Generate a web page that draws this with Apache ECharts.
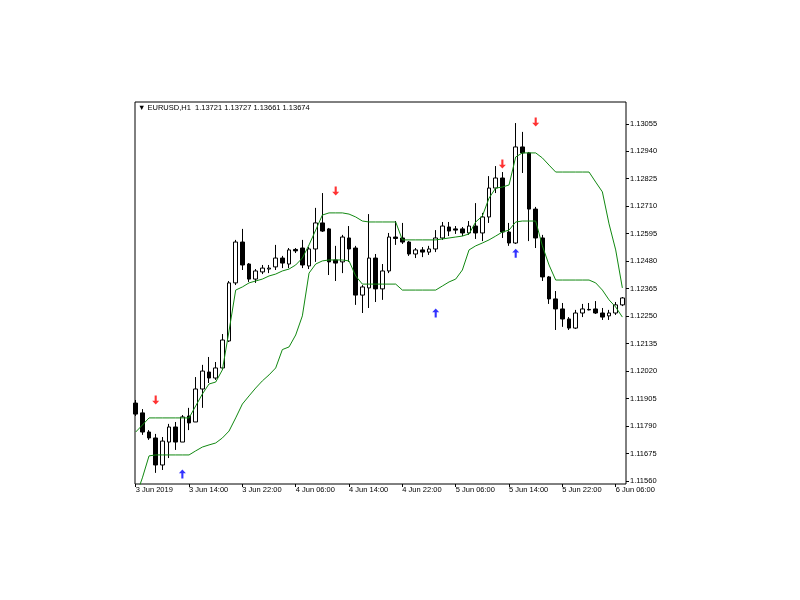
<!DOCTYPE html>
<html><head><meta charset="utf-8">
<script src="https://cdn.jsdelivr.net/npm/echarts@6/dist/echarts.min.js"></script>
<style>html,body{margin:0;padding:0;background:#fff}#c{width:800px;height:600px}</style>
</head><body><div id="c"></div>
<script>
// EURUSD H1 candles, index 0 = 3 Jun 2019 06:00
const opens = [1.11886,1.11845,1.11765,1.11740,1.11627,1.11723,1.11786,1.11723,1.11832,1.11807,
1.11945,1.12016,1.11991,1.12033,1.12146,1.12389,1.12560,1.12468,1.12405,1.12435,
1.12447,1.12456,1.12493,1.12468,1.12529,1.12535,1.12460,1.12531,1.12640,1.12615,
1.12485,1.12477,1.12577,1.12535,1.12338,1.12368,1.12493,1.12364,1.12439,1.12581,
1.12577,1.12560,1.12510,1.12527,1.12518,1.12531,1.12577,1.12623,1.12615,1.12615,
1.12598,1.12627,1.12598,1.12665,1.12786,1.12828,1.12602,1.12556,1.12958,1.12933,
1.12698,1.12577,1.12414,1.12322,1.12280,1.12238,1.12200,1.12263,1.12278,1.12280,
1.12263,1.12251,1.12263,1.12297];
const closes = [1.11840,1.11765,1.11740,1.11627,1.11727,1.11786,1.11723,1.11828,1.11803,1.11945,
1.12020,1.11991,1.12033,1.12150,1.12389,1.12560,1.12464,1.12405,1.12439,1.12451,
1.12451,1.12493,1.12472,1.12527,1.12523,1.12464,1.12531,1.12640,1.12606,1.12477,
1.12472,1.12581,1.12531,1.12338,1.12372,1.12493,1.12364,1.12439,1.12581,1.12575,
1.12560,1.12510,1.12527,1.12518,1.12531,1.12577,1.12627,1.12606,1.12610,1.12598,
1.12627,1.12598,1.12665,1.12786,1.12828,1.12602,1.12556,1.12958,1.12933,1.12698,
1.12577,1.12414,1.12322,1.12280,1.12238,1.12200,1.12263,1.12280,1.12276,1.12263,
1.12246,1.12263,1.12297,1.12326];
const lows = [1.11832,1.11753,1.11732,1.11594,1.11606,1.11656,1.11690,1.11723,1.11773,1.11807,
1.11866,1.11970,1.11983,1.12025,1.12142,1.12380,1.12443,1.12393,1.12389,1.12426,
1.12430,1.12443,1.12451,1.12451,1.12514,1.12451,1.12447,1.12477,1.12602,1.12422,
1.12397,1.12430,1.12477,1.12297,1.12263,1.12284,1.12309,1.12318,1.12430,1.12548,
1.12552,1.12502,1.12493,1.12497,1.12506,1.12518,1.12569,1.12585,1.12594,1.12585,
1.12590,1.12573,1.12564,1.12640,1.12765,1.12577,1.12544,1.12552,1.12849,1.12564,
1.12535,1.12397,1.12301,1.12192,1.12205,1.12192,1.12196,1.12246,1.12274,1.12259,
1.12234,1.12234,1.12255,1.12292];
const highs = [1.11899,1.11861,1.11773,1.11757,1.11744,1.11799,1.11807,1.11836,1.11866,1.11995,
1.12046,1.12079,1.12058,1.12175,1.12397,1.12569,1.12615,1.12472,1.12447,1.12464,
1.12464,1.12548,1.12502,1.12535,1.12535,1.12569,1.12539,1.12703,1.12765,1.12619,
1.12544,1.12590,1.12627,1.12544,1.12380,1.12677,1.12510,1.12468,1.12598,1.12648,
1.12640,1.12564,1.12535,1.12539,1.12544,1.12610,1.12644,1.12644,1.12627,1.12623,
1.12648,1.12723,1.12682,1.12836,1.12878,1.12853,1.12640,1.13058,1.13021,1.12937,
1.12707,1.12590,1.12418,1.12355,1.12305,1.12246,1.12276,1.12301,1.12305,1.12313,
1.12284,1.12276,1.12309,1.12330];
// indicator lines
const upperLine = [1.11765,1.11794,1.11824,1.11824,1.11824,1.11824,1.11824,1.11824,1.11824,1.11874,
1.11924,1.11966,1.11974,1.12025,1.12188,1.12359,1.12372,1.12389,1.12397,1.12405,
1.12418,1.12426,1.12439,1.12447,1.12464,1.12493,1.12548,1.12610,1.12673,1.12682,
1.12682,1.12682,1.12677,1.12665,1.12648,1.12644,1.12644,1.12644,1.12644,1.12644,
1.12569,1.12569,1.12569,1.12569,1.12569,1.12569,1.12573,1.12577,1.12581,1.12585,
1.12594,1.12644,1.12669,1.12744,1.12786,1.12790,1.12799,1.12916,1.12933,1.12933,
1.12933,1.12912,1.12882,1.12853,1.12853,1.12853,1.12853,1.12853,1.12853,1.12811,
1.12770,1.12636,1.12527,1.12368];
const lowerLine = [1.11493,1.11573,1.11665,1.11669,1.11669,1.11669,1.11669,1.11669,1.11669,1.11686,
1.11702,1.11711,1.11719,1.11740,1.11769,1.11824,1.11882,1.11916,1.11949,1.11979,
1.12004,1.12033,1.12110,1.12121,1.12171,1.12251,1.12430,1.12468,1.12481,1.12485,
1.12485,1.12485,1.12481,1.12418,1.12384,1.12384,1.12384,1.12384,1.12384,1.12384,
1.12359,1.12359,1.12359,1.12359,1.12359,1.12359,1.12376,1.12393,1.12405,1.12443,
1.12527,1.12544,1.12556,1.12569,1.12585,1.12602,1.12610,1.12644,1.12648,1.12648,
1.12648,1.12544,1.12464,1.12401,1.12401,1.12401,1.12401,1.12401,1.12401,1.12389,
1.12359,1.12318,1.12288,1.12246];
// signal arrows
const sellIdx = [3, 30, 55, 60];
const sellPrice = [1.11899, 1.12774, 1.12887, 1.13062];
const buyIdx = [7, 45, 57];
const buyPrice = [1.11589, 1.12263, 1.12513];
// axis ticks
const xTickIdx = [0, 8, 16, 24, 32, 40, 48, 56, 64, 72];
const xTickLabels = ['3 Jun 2019','3 Jun 14:00','3 Jun 22:00','4 Jun 06:00','4 Jun 14:00','4 Jun 22:00','5 Jun 06:00','5 Jun 14:00','5 Jun 22:00','6 Jun 06:00'];
const yTicks = [1.11560,1.11675,1.11790,1.11905,1.12020,1.12135,1.12250,1.12365,1.12480,1.12595,1.12710,1.12825,1.12940,1.13055];
const headerText = '\u25BC EURUSD,H1  1.13721 1.13727 1.13661 1.13674';

const FONT = 'Liberation Sans';
const chart = echarts.init(document.getElementById('c'), null, {renderer: 'canvas'});
const upPath = 'path://M5,0 L10,5 L6.5,5 L6.5,12 L3.5,12 L3.5,5 L0,5 Z';
const downPath = 'path://M5,12 L10,7 L6.5,7 L6.5,0 L3.5,0 L3.5,7 L0,7 Z';
chart.setOption({
  animation: false,
  backgroundColor: '#fff',
  grid: {left: 135, top: 102, right: 174, bottom: 116, show: true, borderColor: '#000', borderWidth: 1, backgroundColor: '#fff'},
  graphic: [{type: 'text', left: 138, top: 104, style: {text: headerText, fill: '#000', font: '7.5px "' + FONT + '"'}}],
  xAxis: {
    type: 'value', min: -0.105, max: 73.545, position: 'bottom',
    axisLine: {show: false, onZero: false}, splitLine: {show: false},
    axisTick: {show: true, inside: false, customValues: xTickIdx, length: 3, lineStyle: {color: '#000'}},
    axisLabel: {customValues: xTickIdx, formatter: v => xTickLabels[xTickIdx.indexOf(Math.round(v))] || '',
      align: 'left', margin: 2, color: '#000', fontSize: 7.5, fontFamily: FONT}
  },
  yAxis: {
    type: 'value', position: 'right', min: 1.115474, max: 1.131461, scale: true,
    axisLine: {show: false, onZero: false}, splitLine: {show: false},
    axisTick: {show: true, inside: false, customValues: yTicks, length: 3, lineStyle: {color: '#000'}},
    axisLabel: {customValues: yTicks, formatter: v => v.toFixed(5), margin: 4, color: '#000', fontSize: 7.5, fontFamily: FONT}
  },
  series: [
    {type: 'candlestick', data: opens.map((o, i) => [i, o, closes[i], lows[i], highs[i]]),
     encode: {x: 0, y: [1, 2, 3, 4]}, barWidth: 4, clip: true, z: 2,
     itemStyle: {color: '#fff', color0: '#000', borderColor: '#000', borderColor0: '#000', borderColorDoji: '#000', borderWidth: 1}},
    {type: 'line', data: upperLine.map((v, i) => [i, v]), symbol: 'none', clip: true, z: 3,
     lineStyle: {color: '#118811', width: 1}},
    {type: 'line', data: lowerLine.map((v, i) => [i, v]), symbol: 'none', clip: true, z: 3,
     lineStyle: {color: '#118811', width: 1}},
    {type: 'scatter', data: sellIdx.map((x, k) => [x, sellPrice[k]]), symbol: downPath, symbolSize: [7, 9], z: 4,
     itemStyle: {color: '#ff0000'}},
    {type: 'scatter', data: buyIdx.map((x, k) => [x, buyPrice[k]]), symbol: upPath, symbolSize: [7, 9], z: 4,
     itemStyle: {color: '#0000ff'}}
  ]
});
</script></body></html>
